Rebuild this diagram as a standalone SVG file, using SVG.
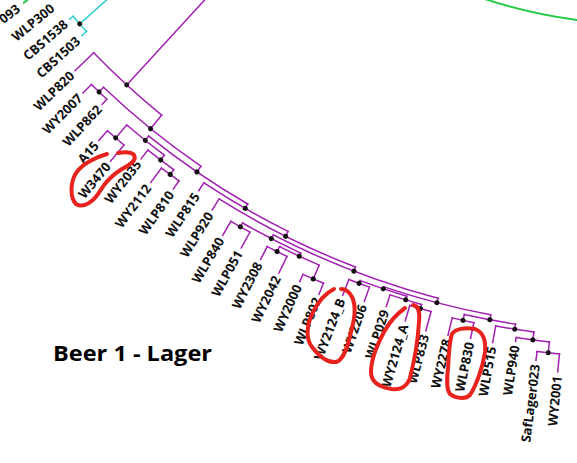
<svg xmlns="http://www.w3.org/2000/svg" width="577" height="463" viewBox="0 0 577 463">
<style>
.br{fill:none;stroke:#a11fb1;stroke-width:1.5;stroke-linecap:square}
.cy{fill:none;stroke:#2fcfcf;stroke-width:1.5;stroke-linecap:square}
.gr{fill:none;stroke:#22cc44;stroke-width:2}
.dot{fill:#111}
.lab{font-family:"Open Sans","Liberation Sans",sans-serif;font-weight:bold;font-size:13px;fill:#111}
.title{font-family:"Open Sans","Liberation Sans",sans-serif;font-weight:bold;font-size:22px;fill:#000}
.red{fill:none;stroke:#e8231e;stroke-width:4;stroke-linecap:round;stroke-linejoin:round}
</style>
<rect width="577" height="463" fill="#fff"/>
<g transform="translate(641,-476)">
<g id="connectors">
<circle class="gr" r="500" stroke-dasharray="192 9999" transform="rotate(88)"/>
<line class="gr" x1="770" x2="782" transform="rotate(142.2)"/>
<line class="cy" x1="700" x2="751.6" transform="rotate(138.315)"/>
<circle class="cy" r="751.6" stroke-dasharray="20.33 9999" transform="rotate(137.54)"/>
<line class="cy" x1="751.6" x2="756" transform="rotate(139.09)"/>
<line class="cy" x1="751.6" x2="758" transform="rotate(137.54)"/>
<circle class="br" r="761" stroke-dasharray="92.31 9999" transform="rotate(129.04)"/>
<circle class="br" r="778.6" stroke-dasharray="125.5 9999" transform="rotate(124.425)"/>
<circle class="br" r="785" stroke-dasharray="21.37 9999" transform="rotate(132.88)"/>
<circle class="br" r="785.5" stroke-dasharray="120.23 9999" transform="rotate(120.04)"/>
<circle class="br" r="791" stroke-dasharray="48.25 9999" transform="rotate(127.06)"/>
<circle class="br" r="808" stroke-dasharray="21.86 9999" transform="rotate(129.78)"/>
<circle class="br" r="797" stroke-dasharray="32.34 9999" transform="rotate(125.895)"/>
<circle class="br" r="803" stroke-dasharray="21.72 9999" transform="rotate(125.12)"/>
<circle class="br" r="790.6" stroke-dasharray="97.21 9999" transform="rotate(116.515)"/>
<circle class="br" r="796" stroke-dasharray="152.68 9999" transform="rotate(111.02)"/>
<circle class="br" r="800.4" stroke-dasharray="176.85 9999" transform="rotate(104.69)"/>
<circle class="br" r="804.6" stroke-dasharray="65.51 9999" transform="rotate(115.02)"/>
<circle class="br" r="809" stroke-dasharray="21.89 9999" transform="rotate(118.91)"/>
<circle class="br" r="808" stroke-dasharray="43.79 9999" transform="rotate(113.47)"/>
<circle class="br" r="813.5" stroke-dasharray="22.01 9999" transform="rotate(115.8)"/>
<circle class="br" r="823" stroke-dasharray="22.41 9999" transform="rotate(112.69)"/>
<circle class="br" r="805" stroke-dasharray="110.5 9999" transform="rotate(100.755)"/>
<circle class="br" r="807" stroke-dasharray="49.23 9999" transform="rotate(106.87)"/>
<circle class="br" r="810" stroke-dasharray="21.91 9999" transform="rotate(109.59)"/>
<circle class="br" r="810.7" stroke-dasharray="32.9 9999" transform="rotate(105.705)"/>
<circle class="br" r="815" stroke-dasharray="22.05 9999" transform="rotate(104.93)"/>
<circle class="br" r="810" stroke-dasharray="52.17 9999" transform="rotate(98.91)"/>
<circle class="br" r="816" stroke-dasharray="22.22 9999" transform="rotate(101.82)"/>
<circle class="br" r="815" stroke-dasharray="38.69 9999" transform="rotate(97.55)"/>
<circle class="br" r="823" stroke-dasharray="33.54 9999" transform="rotate(96.385)"/>
<circle class="br" r="834" stroke-dasharray="22.56 9999" transform="rotate(95.61)"/>
<line class="br" x1="640" x2="761" transform="rotate(132.515)"/>
<line class="br" x1="761" x2="787" transform="rotate(135.99)"/>
<line class="br" x1="761" x2="778.6" transform="rotate(129.04)"/>
<line class="br" x1="778.6" x2="785" transform="rotate(133.66)"/>
<line class="br" x1="778.6" x2="785.5" transform="rotate(124.425)"/>
<line class="br" x1="785" x2="797" transform="rotate(134.44)"/>
<line class="br" x1="785" x2="792" transform="rotate(132.88)"/>
<line class="br" x1="785.5" x2="791" transform="rotate(128.81)"/>
<line class="br" x1="785.5" x2="790.6" transform="rotate(120.04)"/>
<line class="br" x1="791" x2="808" transform="rotate(130.555)"/>
<line class="br" x1="791" x2="797" transform="rotate(127.06)"/>
<line class="br" x1="808" x2="821" transform="rotate(131.33)"/>
<line class="br" x1="808" x2="829" transform="rotate(129.78)"/>
<line class="br" x1="797" x2="808" transform="rotate(128.22)"/>
<line class="br" x1="797" x2="803" transform="rotate(125.895)"/>
<line class="br" x1="803" x2="821" transform="rotate(126.67)"/>
<line class="br" x1="803" x2="813" transform="rotate(125.12)"/>
<line class="br" x1="790.6" x2="800" transform="rotate(123.56)"/>
<line class="br" x1="790.6" x2="796" transform="rotate(116.515)"/>
<line class="br" x1="796" x2="809" transform="rotate(122.01)"/>
<line class="br" x1="796" x2="800.4" transform="rotate(111.02)"/>
<line class="br" x1="800.4" x2="804.6" transform="rotate(117.35)"/>
<line class="br" x1="800.4" x2="805" transform="rotate(104.69)"/>
<line class="br" x1="804.6" x2="809" transform="rotate(119.685)"/>
<line class="br" x1="804.6" x2="808" transform="rotate(115.02)"/>
<line class="br" x1="809" x2="825" transform="rotate(120.46)"/>
<line class="br" x1="809" x2="827" transform="rotate(118.91)"/>
<line class="br" x1="808" x2="813.5" transform="rotate(116.575)"/>
<line class="br" x1="808" x2="823" transform="rotate(113.47)"/>
<line class="br" x1="813.5" x2="828" transform="rotate(117.35)"/>
<line class="br" x1="813.5" x2="832" transform="rotate(115.8)"/>
<line class="br" x1="823" x2="831" transform="rotate(114.25)"/>
<line class="br" x1="823" x2="835" transform="rotate(112.69)"/>
<line class="br" x1="805" x2="807" transform="rotate(108.62)"/>
<line class="br" x1="805" x2="810" transform="rotate(100.755)"/>
<line class="br" x1="807" x2="810" transform="rotate(110.365)"/>
<line class="br" x1="807" x2="810.7" transform="rotate(106.87)"/>
<line class="br" x1="810" x2="827" transform="rotate(111.14)"/>
<line class="br" x1="810" x2="825" transform="rotate(109.59)"/>
<line class="br" x1="810.7" x2="823" transform="rotate(108.03)"/>
<line class="br" x1="810.7" x2="815" transform="rotate(105.705)"/>
<line class="br" x1="815" x2="831" transform="rotate(106.48)"/>
<line class="br" x1="815" x2="835" transform="rotate(104.93)"/>
<line class="br" x1="810" x2="816" transform="rotate(102.6)"/>
<line class="br" x1="810" x2="815" transform="rotate(98.91)"/>
<line class="br" x1="816" x2="834" transform="rotate(103.38)"/>
<line class="br" x1="816" x2="832" transform="rotate(101.82)"/>
<line class="br" x1="815" x2="832" transform="rotate(100.27)"/>
<line class="br" x1="815" x2="823" transform="rotate(97.55)"/>
<line class="br" x1="823" x2="827" transform="rotate(98.72)"/>
<line class="br" x1="823" x2="834" transform="rotate(96.385)"/>
<line class="br" x1="834" x2="843" transform="rotate(97.16)"/>
<line class="br" x1="834" x2="852" transform="rotate(95.61)"/>
</g>
<g id="internal-nodes">
<g id="n-cyan"><circle class="dot" cx="751.6" r="2.5" transform="rotate(138.315)"/></g>
<g id="n-A"><circle class="dot" cx="761" r="2.5" transform="rotate(132.515)"/></g>
<g id="n-B"><circle class="dot" cx="778.6" r="2.5" transform="rotate(129.04)"/></g>
<g id="n-C"><circle class="dot" cx="785" r="2.5" transform="rotate(133.66)"/></g>
<g id="n-H"><circle class="dot" cx="785.5" r="2.5" transform="rotate(124.425)"/></g>
<g id="n-E"><circle class="dot" cx="791" r="2.5" transform="rotate(128.81)"/></g>
<g id="n-D"><circle class="dot" cx="808" r="2.5" transform="rotate(130.555)"/></g>
<g id="n-F"><circle class="dot" cx="797" r="2.5" transform="rotate(127.06)"/></g>
<g id="n-G"><circle class="dot" cx="803" r="2.5" transform="rotate(125.895)"/></g>
<g id="n-I"><circle class="dot" cx="790.6" r="2.5" transform="rotate(120.04)"/></g>
<g id="n-K"><circle class="dot" cx="796" r="2.5" transform="rotate(116.515)"/></g>
<g id="n-P"><circle class="dot" cx="800.4" r="2.5" transform="rotate(111.02)"/></g>
<g id="n-L"><circle class="dot" cx="804.6" r="2.5" transform="rotate(117.35)"/></g>
<g id="n-J"><circle class="dot" cx="809" r="2.5" transform="rotate(119.685)"/></g>
<g id="n-N"><circle class="dot" cx="808" r="2.5" transform="rotate(115.02)"/></g>
<g id="n-M"><circle class="dot" cx="813.5" r="2.5" transform="rotate(116.575)"/></g>
<g id="n-O"><circle class="dot" cx="823" r="2.5" transform="rotate(113.47)"/></g>
<g id="n-T"><circle class="dot" cx="805" r="2.5" transform="rotate(104.69)"/></g>
<g id="n-R"><circle class="dot" cx="807" r="2.5" transform="rotate(108.62)"/></g>
<g id="n-Q"><circle class="dot" cx="810" r="2.5" transform="rotate(110.365)"/></g>
<g id="n-S"><circle class="dot" cx="810.7" r="2.5" transform="rotate(106.87)"/></g>
<g id="n-Z"><circle class="dot" cx="815" r="2.5" transform="rotate(105.705)"/></g>
<g id="n-V"><circle class="dot" cx="810" r="2.5" transform="rotate(100.755)"/></g>
<g id="n-U"><circle class="dot" cx="816" r="2.5" transform="rotate(102.6)"/></g>
<g id="n-W"><circle class="dot" cx="815" r="2.5" transform="rotate(98.91)"/></g>
<g id="n-X"><circle class="dot" cx="823" r="2.5" transform="rotate(97.55)"/></g>
<g id="n-Y"><circle class="dot" cx="834" r="2.5" transform="rotate(96.385)"/></g>
</g>
<g id="leaves">
<g id="leaf-093"><text class="lab" text-anchor="end" dy=".35em" transform="rotate(142.2) translate(788,0) rotate(180)">093</text></g>
<g id="leaf-WLP300"><text class="lab" text-anchor="end" dy=".35em" transform="rotate(140.65) translate(761,0) rotate(180)">WLP300</text></g>
<g id="leaf-CBS1538"><text class="lab" text-anchor="end" dy=".35em" transform="rotate(139.09) translate(761,0) rotate(180)">CBS1538</text></g>
<g id="leaf-CBS1503"><text class="lab" text-anchor="end" dy=".35em" transform="rotate(137.54) translate(763,0) rotate(180)">CBS1503</text></g>
<g id="leaf-WLP820"><text class="lab" text-anchor="end" dy=".35em" transform="rotate(135.99) translate(791,0) rotate(180)">WLP820</text></g>
<g id="leaf-WY2007"><text class="lab" text-anchor="end" dy=".35em" transform="rotate(134.44) translate(801,0) rotate(180)">WY2007</text></g>
<g id="leaf-WLP862"><text class="lab" text-anchor="end" dy=".35em" transform="rotate(132.88) translate(796,0) rotate(180)">WLP862</text></g>
<g id="leaf-A15"><text class="lab" text-anchor="end" dy=".35em" transform="rotate(131.33) translate(825,0) rotate(180)">A15</text></g>
<g id="leaf-W3470"><text class="lab" text-anchor="end" dy=".35em" transform="rotate(129.78) translate(833,0) rotate(180)">W3470</text></g>
<g id="leaf-WY2035"><text class="lab" text-anchor="end" dy=".35em" transform="rotate(128.22) translate(812,0) rotate(180)">WY2035</text></g>
<g id="leaf-WY2112"><text class="lab" text-anchor="end" dy=".35em" transform="rotate(126.67) translate(825,0) rotate(180)">WY2112</text></g>
<g id="leaf-WLP810"><text class="lab" text-anchor="end" dy=".35em" transform="rotate(125.12) translate(817,0) rotate(180)">WLP810</text></g>
<g id="leaf-WLP815"><text class="lab" text-anchor="end" dy=".35em" transform="rotate(123.56) translate(804,0) rotate(180)">WLP815</text></g>
<g id="leaf-WLP920"><text class="lab" text-anchor="end" dy=".35em" transform="rotate(122.01) translate(813,0) rotate(180)">WLP920</text></g>
<g id="leaf-WLP840"><text class="lab" text-anchor="end" dy=".35em" transform="rotate(120.46) translate(829,0) rotate(180)">WLP840</text></g>
<g id="leaf-WLP051"><text class="lab" text-anchor="end" dy=".35em" transform="rotate(118.91) translate(831,0) rotate(180)">WLP051</text></g>
<g id="leaf-WY2308"><text class="lab" text-anchor="end" dy=".35em" transform="rotate(117.35) translate(832,0) rotate(180)">WY2308</text></g>
<g id="leaf-WY2042"><text class="lab" text-anchor="end" dy=".35em" transform="rotate(115.8) translate(836,0) rotate(180)">WY2042</text></g>
<g id="leaf-WY2000"><text class="lab" text-anchor="end" dy=".35em" transform="rotate(114.25) translate(835,0) rotate(180)">WY2000</text></g>
<g id="leaf-WLP802"><text class="lab" text-anchor="end" dy=".35em" transform="rotate(112.69) translate(839,0) rotate(180)">WLP802</text></g>
<g id="leaf-WY2124_B"><text class="lab" text-anchor="end" dy=".35em" transform="rotate(111.14) translate(831,0) rotate(180)">WY2124_B</text></g>
<g id="leaf-WY2206"><text class="lab" text-anchor="end" dy=".35em" transform="rotate(109.59) translate(829,0) rotate(180)">WY2206</text></g>
<g id="leaf-WLP029"><text class="lab" text-anchor="end" dy=".35em" transform="rotate(108.03) translate(827,0) rotate(180)">WLP029</text></g>
<g id="leaf-WY2124_A"><text class="lab" text-anchor="end" dy=".35em" transform="rotate(106.48) translate(835,0) rotate(180)">WY2124_A</text></g>
<g id="leaf-WLP833"><text class="lab" text-anchor="end" dy=".35em" transform="rotate(104.93) translate(839,0) rotate(180)">WLP833</text></g>
<g id="leaf-WY2278"><text class="lab" text-anchor="end" dy=".35em" transform="rotate(103.38) translate(838,0) rotate(180)">WY2278</text></g>
<g id="leaf-WLP830"><text class="lab" text-anchor="end" dy=".35em" transform="rotate(101.82) translate(836,0) rotate(180)">WLP830</text></g>
<g id="leaf-WLP515"><text class="lab" text-anchor="end" dy=".35em" transform="rotate(100.27) translate(836,0) rotate(180)">WLP515</text></g>
<g id="leaf-WLP940"><text class="lab" text-anchor="end" dy=".35em" transform="rotate(98.72) translate(831,0) rotate(180)">WLP940</text></g>
<g id="leaf-SafLager023"><text class="lab" text-anchor="end" dy=".35em" transform="rotate(97.16) translate(847,0) rotate(180)">SafLager023</text></g>
<g id="leaf-WY2001"><text class="lab" text-anchor="end" dy=".35em" transform="rotate(95.61) translate(856,0) rotate(180)">WY2001</text></g>
</g>
</g>
<text class="title" x="53" y="361" textLength="159" lengthAdjust="spacingAndGlyphs">Beer 1 - Lager</text>
<g id="highlights">
<path class="red" d="M107,154 C96,157 82,164 76,173 C70,183 70,198 76,204 C84,209 94,201 100,191 C106,181 112,175 122,169 C131,164 137,160 134,155 C131,152 124,152 118,153"/>
<path class="red" d="M334,289 C326,293 318,302 313,312 C307,324 305,338 312,347 C319,356 328,363 336,362 C344,360 348,345 351,332 C355,318 356,305 352,297 C349,291 345,289 341,289"/>
<path class="red" d="M405,308 C398,313 390,321 384,332 C377,345 371,360 371,372 C371,382 378,387 392,389 C402,390 407,386 410,378 C414,362 418,340 419,322 C420,312 419,306 413,305"/>
<path class="red" d="M452,334 C455,329 465,327 475,329 C483,332 486,341 485,352 C483,366 477,384 470,395 C465,400 455,398 450,394 C446,389 447,378 448,368 C449,355 449,342 452,334 Z"/>
</g>
</svg>
